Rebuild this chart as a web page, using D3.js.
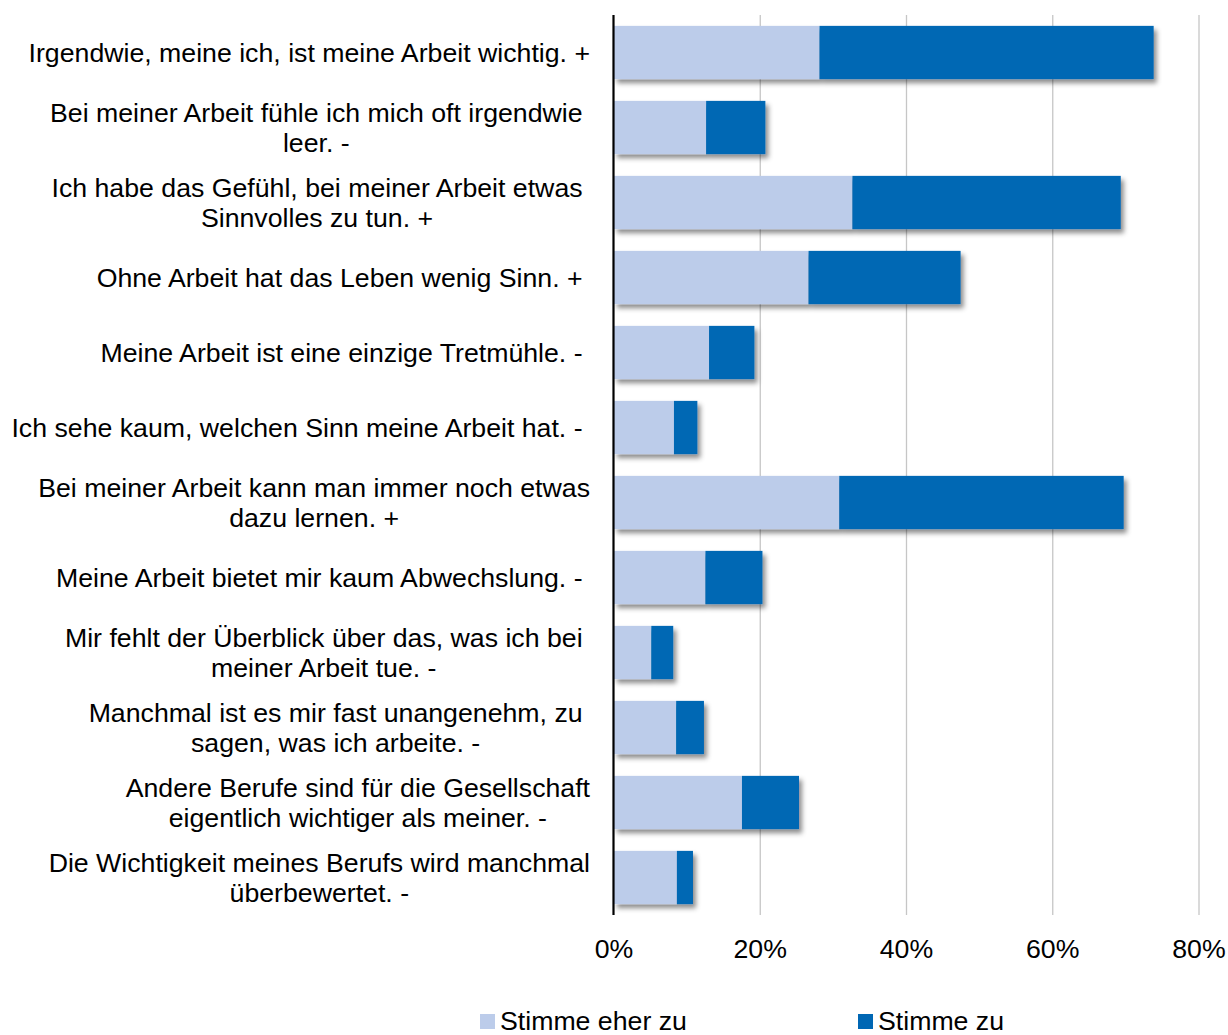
<!DOCTYPE html>
<html>
<head>
<meta charset="utf-8">
<script src="https://cdn.jsdelivr.net/npm/d3@7"></script>
<style>
  body { margin: 0; background: #fff; }
  svg { display: block; font-family: "Liberation Sans", Arial, sans-serif; }
</style>
</head>
<body>
<div id="chart"></div>
<script>
// Kategorien (Zeilenumbrüche wie im Original, teils mit Leerzeichen am Ende)
const categories = [
  "Irgendwie, meine ich, ist meine Arbeit wichtig. +",
  "Bei meiner Arbeit fühle ich mich oft irgendwie \nleer. - ",
  "Ich habe das Gefühl, bei meiner Arbeit etwas \nSinnvolles zu tun. + ",
  "Ohne Arbeit hat das Leben wenig Sinn. + ",
  "Meine Arbeit ist eine einzige Tretmühle. - ",
  "Ich sehe kaum, welchen Sinn meine Arbeit hat. - ",
  "Bei meiner Arbeit kann man immer noch etwas\ndazu lernen. +",
  "Meine Arbeit bietet mir kaum Abwechslung. - ",
  "Mir fehlt der Überblick über das, was ich bei \nmeiner Arbeit tue. - ",
  "Manchmal ist es mir fast unangenehm, zu \nsagen, was ich arbeite. - ",
  "Andere Berufe sind für die Gesellschaft\neigentlich wichtiger als meiner. -",
  "Die Wichtigkeit meines Berufs wird manchmal\nüberbewertet. -"
];
const series = ["Stimme eher zu", "Stimme zu"];
const eherZu = [28.1, 12.6, 32.6, 26.6, 13.0, 8.2, 30.8, 12.5, 5.1, 8.5, 17.5, 8.6];
const zu     = [45.7,  8.1, 36.7, 20.8,  6.2, 3.2, 38.9,  7.8, 3.0, 3.8,  7.8, 2.2];
const ticks = [0, 20, 40, 60, 80];
const colors = ["#BCCCEA", "#0067B4"];

const W = 1228, H = 1035;
const fs = 26.7;
const svg = d3.select("#chart").append("svg").attr("width", W).attr("height", H);

const defs = svg.append("defs");
defs.append("filter").attr("id", "shadow")
  .attr("x", "-10%").attr("y", "-20%").attr("width", "130%").attr("height", "160%")
  .append("feDropShadow")
  .attr("dx", 3).attr("dy", 4).attr("stdDeviation", 2.5)
  .attr("flood-color", "#000").attr("flood-opacity", 0.45);

const x = d3.scaleLinear().domain([0, 80]).range([614, 1199]);
const y = d3.scaleBand().domain(d3.range(categories.length))
  .range([15, 915]).paddingInner(0.29).paddingOuter(0.145);

// Gitterlinien
svg.append("g").selectAll("line").data(ticks.slice(1)).join("line")
  .attr("x1", d => x(d)).attr("x2", d => x(d))
  .attr("y1", 15).attr("y2", 915)
  .attr("stroke", "#C6C6C6").attr("stroke-width", 1.3);

// Balken (gestapelt)
const stacked = categories.map((c, i) => [
  { i, s: 0, x0: 0, x1: eherZu[i] },
  { i, s: 1, x0: eherZu[i], x1: eherZu[i] + zu[i] }
]);
const rows = svg.append("g").selectAll("g").data(stacked).join("g")
  .attr("filter", "url(#shadow)");
rows.selectAll("rect").data(d => d).join("rect")
  .attr("x", d => x(d.x0))
  .attr("width", d => x(d.x1) - x(d.x0))
  .attr("y", d => y(d.i))
  .attr("height", y.bandwidth())
  .attr("fill", d => colors[d.s]);

// Achse
svg.append("line").attr("x1", 613.5).attr("x2", 613.5).attr("y1", 15).attr("y2", 915)
  .attr("stroke", "#000").attr("stroke-width", 2.2);

svg.append("g").selectAll("text").data(ticks).join("text")
  .attr("x", d => x(d)).attr("y", 958)
  .attr("text-anchor", "middle").attr("font-size", fs).attr("fill", "#000")
  .text(d => d + "%");

// Kategorie-Beschriftungen: Block rechtsbündig, Zeilen zentriert
const lineH = 30;
const labels = svg.append("g").attr("font-size", fs).attr("fill", "#000");
categories.forEach((c, i) => {
  const lines = c.split("\n");
  const g = labels.append("g");
  const ts = lines.map(l => g.append("text")
    .attr("xml:space", "preserve").style("white-space", "pre").text(l));
  const wMax = d3.max(ts, t => t.node().getComputedTextLength());
  const cx = 590 - wMax / 2;
  const cy = y(i) + y.bandwidth() / 2;
  const top = cy - (lines.length - 1) * lineH / 2;
  ts.forEach((t, k) => t.attr("x", cx).attr("y", top + k * lineH + 9)
    .attr("text-anchor", "middle"));
});

// Legende
const leg = svg.append("g").attr("font-size", fs);
const legX = [480, 858];
series.forEach((s, k) => {
  leg.append("rect").attr("x", legX[k]).attr("y", 1014).attr("width", 15).attr("height", 15)
    .attr("fill", colors[k]);
  leg.append("text").attr("x", legX[k] + 20).attr("y", 1030).text(s);
});
</script>
</body>
</html>
